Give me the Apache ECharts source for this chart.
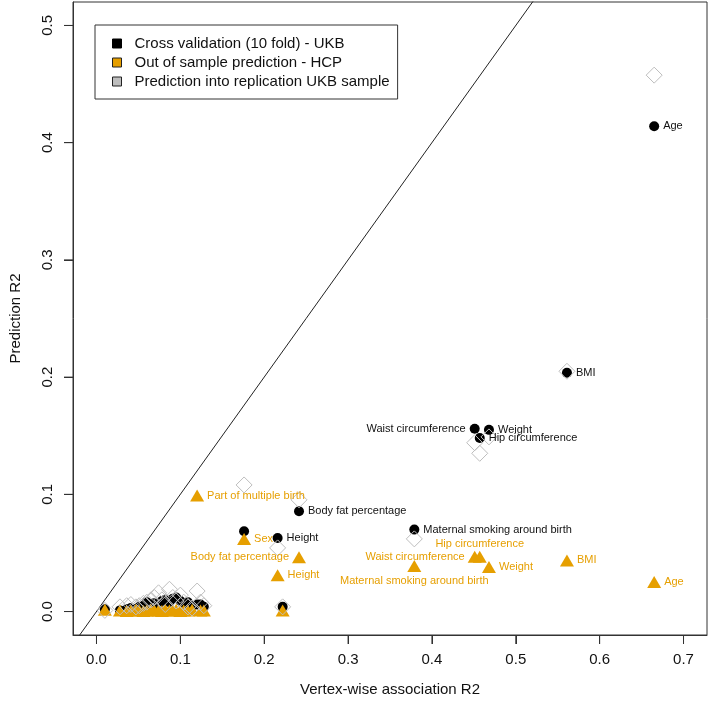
<!DOCTYPE html>
<html>
<head>
<meta charset="utf-8">
<script src="https://cdn.jsdelivr.net/npm/echarts@6/dist/echarts.min.js"></script>
<style>
html,body{margin:0;padding:0;background:#fff;}
#chart{width:709px;height:702px;}
</style>
</head>
<body>
<div id="chart"></div>
<script>
// ---- data ----
const traitNames = ['Age','BMI','Weight','Waist circumference','Hip circumference',
  'Maternal smoking around birth','Body fat percentage','Height','Sex','Part of multiple birth',
  '', '', '', '', '', '', '', '', '', '', '', '', '', '', '', '', '', '', '', '', '', '', ''];
const vertexR2 = [0.665, 0.561, 0.468, 0.451, 0.457, 0.379, 0.2415, 0.216, 0.176, 0.120,
  0.222, 0.010, 0.028, 0.036, 0.041, 0.047, 0.051, 0.056, 0.060, 0.065, 0.069, 0.074,
  0.078, 0.082, 0.087, 0.091, 0.095, 0.100, 0.104, 0.109, 0.114, 0.124, 0.128];
const cvUKB = [0.414, 0.2037, 0.155, 0.156, 0.148, 0.0699, 0.0855, 0.0628, 0.0685, 0.006,
  0.004, 0.002, 0.001, 0.002, 0.003, 0.002, 0.004, 0.005, 0.008, 0.006, 0.007, 0.006,
  0.009, 0.010, 0.008, 0.011, 0.012, 0.009, 0.007, 0.008, 0.005, 0.006, 0.004];
const hcpPred = [0.0252, 0.0436, 0.038, 0.0467, 0.0467, 0.0388, 0.0464, 0.031, 0.062, 0.099,
  0.001, 0.0015, 0.001, 0.0005, 0.001, 0.0015, 0.001, 0.0005, 0.001, 0.0015, 0.001, 0.001,
  0.0005, 0.0015, 0.001, 0.001, 0.0015, 0.0005, 0.001, 0.001, 0.0015, 0.001, 0.001];
const replUKB = [0.4576, 0.205, 0.149, 0.144, 0.135, 0.062, 0.0953, 0.0543, 0.108, 0.0175,
  0.004, 0.001, 0.004, 0.005, 0.006, 0.004, 0.005, 0.007, 0.008, 0.010, 0.012, 0.016,
  0.010, 0.006, 0.019, 0.012, 0.009, 0.014, 0.008, 0.004, 0.003, 0.008, 0.005];
const xTicks = [0, 0.1, 0.2, 0.3, 0.4, 0.5, 0.6, 0.7];
const yTicks = [0, 0.1, 0.2, 0.3, 0.4, 0.5];
const xRange = [-0.028, 0.728];
const yRange = [-0.02, 0.52];
const identityLine = [[-0.1, -0.1], [0.7, 0.7]];
const seriesNames = ['Cross validation (10 fold) - UKB', 'Out of sample prediction - HCP', 'Prediction into replication UKB sample'];

// ---- label placement (style) ----
const cvLabelSide = {'Age':'right','BMI':'right','Weight':'right','Waist circumference':'left',
  'Hip circumference':'right','Maternal smoking around birth':'right','Body fat percentage':'right','Height':'right'};
const hcpLabelSide = {'Age':'right','BMI':'right','Weight':'right','Waist circumference':'left',
  'Hip circumference':'top','Maternal smoking around birth':'bottom','Body fat percentage':'left',
  'Height':'right','Sex':'right','Part of multiple birth':'right'};

const ORANGE = '#E69F00';
const GREY = '#BEBEBE';
const FONT = '"Liberation Sans", Arial, Helvetica, sans-serif';
const TICK_LEN = 9;

function build(yArr, sideMap, color, dist) {
  return vertexR2.map((x, i) => {
    const item = { name: traitNames[i], value: [x, yArr[i]] };
    const side = sideMap ? sideMap[traitNames[i]] : null;
    if (side) {
      item.label = { show: true, position: side, distance: side === 'top' ? 1 : dist,
        formatter: traitNames[i], color: color, fontSize: 11, fontFamily: FONT };
    }
    return item;
  });
}

function axisCfg(ticks, extra) {
  const a = {
    type: 'value',
    nameLocation: 'middle',
    nameTextStyle: { fontSize: 15, color: '#111', fontFamily: FONT },
    axisLine: { show: true, onZero: false, lineStyle: { color: '#333', width: 1 } },
    splitLine: { show: false },
    axisTick: { show: true, customValues: ticks, length: TICK_LEN, lineStyle: { color: '#333', width: 1 } },
    axisLabel: { customValues: ticks, formatter: v => v.toFixed(1), fontSize: 15, color: '#111', fontFamily: FONT }
  };
  Object.keys(extra).forEach(k => {
    if (typeof extra[k] === 'object' && a[k]) Object.assign(a[k], extra[k]); else a[k] = extra[k];
  });
  return a;
}

// outward tick marks placed through the axes' own scales
function tickSeries(data, vertical) {
  return {
    type: 'custom', silent: true, clip: false, z: 5,
    data: data,
    renderItem: (params, api) => {
      const p = api.coord([api.value(0), api.value(1)]);
      const shape = vertical
        ? { x1: p[0], y1: p[1], x2: p[0], y2: p[1] + TICK_LEN }
        : { x1: p[0], y1: p[1], x2: p[0] - TICK_LEN, y2: p[1] };
      return { type: 'line', shape: shape, style: { stroke: '#333', lineWidth: 1 } };
    }
  };
}

const chart = echarts.init(document.getElementById('chart'), null, {renderer: 'canvas'});
chart.setOption({
  animation: false,
  backgroundColor: '#fff',
  textStyle: { fontFamily: FONT },
  grid: { left: 71, right: 2, top: 2, bottom: 65, show: true, borderColor: '#333', borderWidth: 1, backgroundColor: 'transparent' },
  legend: {
    left: 95, top: 25, orient: 'vertical',
    backgroundColor: '#fff', borderColor: '#333', borderWidth: 1, borderRadius: 0,
    padding: [11, 8, 10, 17], itemGap: 4, itemWidth: 9, itemHeight: 9,
    textStyle: { fontSize: 15, color: '#111', fontFamily: FONT, lineHeight: 15, padding: [0, 0, 0, 8] },
    selectedMode: false,
    data: [
      { name: seriesNames[0], icon: 'rect', itemStyle: { color: '#000', borderColor: '#000', borderWidth: 1, opacity: 1 } },
      { name: seriesNames[1], icon: 'rect', itemStyle: { color: ORANGE, borderColor: '#222', borderWidth: 1, opacity: 1 } },
      { name: seriesNames[2], icon: 'rect', itemStyle: { color: GREY, borderColor: '#222', borderWidth: 1, opacity: 1 } }
    ]
  },
  xAxis: axisCfg(xTicks, { min: xRange[0], max: xRange[1], name: 'Vertex-wise association R2', nameGap: 47,
    axisLabel: { margin: 17 } }),
  yAxis: axisCfg(yTicks, { min: yRange[0], max: yRange[1], name: 'Prediction R2', nameGap: 50,
    axisLabel: { margin: 18, rotate: 90 } }),
  series: [
    {
      type: 'line', data: identityLine, symbol: 'none', silent: true,
      lineStyle: { color: '#222', width: 1 }, clip: true, z: 1
    },
    {
      name: seriesNames[0], type: 'scatter', symbol: 'circle', symbolSize: 10,
      itemStyle: { color: '#000', opacity: 1 }, data: build(cvUKB, cvLabelSide, '#111', 4)
    },
    {
      name: seriesNames[1], type: 'scatter', symbol: 'triangle', symbolSize: [14, 12],
      itemStyle: { color: ORANGE, opacity: 1 }, data: build(hcpPred, hcpLabelSide, ORANGE, 3)
    },
    {
      name: seriesNames[2], type: 'scatter', symbol: 'diamond', symbolSize: [16, 16],
      itemStyle: { color: 'transparent', borderColor: GREY, borderWidth: 1, opacity: 1 }, data: build(replUKB, null, GREY, 3)
    },
    tickSeries(xTicks.map(v => [v, yRange[0]]), true),
    tickSeries(yTicks.map(v => [xRange[0], v]), false)
  ]
});
</script>
</body>
</html>
